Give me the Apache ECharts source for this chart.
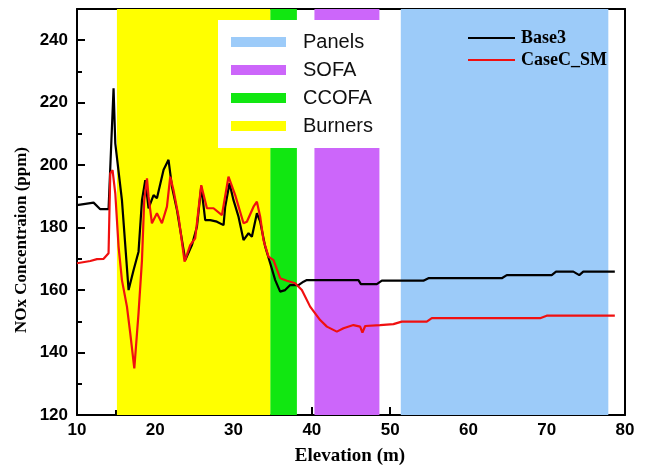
<!DOCTYPE html>
<html>
<head>
<meta charset="utf-8">
<script src="https://cdn.jsdelivr.net/npm/echarts@6/dist/echarts.min.js"></script>
<style>html,body{margin:0;padding:0;background:#fff;}#chart{width:648px;height:473px;}</style>
</head>
<body>
<div id="chart"></div>
<script>
// ---- data ----
const xTicks = [10, 20, 30, 40, 50, 60, 70, 80];
const yTicks = [120, 140, 160, 180, 200, 220, 240];

const bandNames = ['Panels', 'SOFA', 'CCOFA', 'Burners'];
const bandStart = [51.36, 40.33, 34.68, 15.1];
const bandEnd = [77.87, 48.63, 38.09, 34.68];

const base3Elev = [10, 12.12, 12.97, 14.03, 14.25, 14.67, 14.89, 15.74, 16.59, 17.23, 17.86, 18.30, 18.72, 19.14, 19.78, 20.21, 21.06, 21.69, 22.13, 22.77, 23.83, 24.68, 25.32, 25.87, 26.38, 27.02, 27.87, 28.72, 28.93, 29.48, 29.99, 30.63, 31.27, 31.49, 31.91, 32.34, 32.98, 33.40, 34.04, 34.68, 35.32, 35.95, 36.59, 37.23, 38.29, 38.93, 39.36, 45.95, 46.26, 48.30, 48.94, 54.25, 54.89, 64.26, 64.90, 70.64, 71.19, 73.40, 74.16, 74.67, 78.70];
const base3NOx = [187.2, 188.0, 185.9, 185.9, 186.5, 224.6, 207.0, 188.8, 160.0, 166.4, 172.3, 188.8, 195.2, 186.2, 190.4, 189.4, 198.5, 201.7, 193.1, 185.6, 169.6, 174.4, 180.3, 193.1, 182.4, 182.4, 181.9, 180.8, 186.7, 194.2, 188.8, 183.5, 176.0, 176.0, 178.2, 177.1, 184.6, 181.9, 173.9, 168.6, 163.2, 159.5, 160.0, 161.6, 161.6, 162.7, 163.2, 163.2, 161.9, 161.9, 163.0, 163.0, 163.8, 163.8, 164.8, 164.8, 165.9, 165.9, 164.8, 165.9, 165.9];

const caseElev = [10, 11.70, 12.55, 13.40, 14.03, 14.25, 14.54, 14.89, 15.31, 15.74, 16.38, 16.80, 17.32, 17.86, 18.30, 18.59, 18.94, 19.14, 19.57, 20.21, 20.85, 21.49, 21.91, 22.33, 22.97, 23.74, 24.46, 25.10, 25.87, 26.60, 27.44, 28.51, 29.35, 30.21, 31.27, 31.70, 32.55, 32.98, 33.40, 33.82, 34.46, 35.10, 35.95, 36.81, 37.87, 38.72, 39.78, 41.06, 41.92, 43.19, 44.04, 45.31, 46.17, 46.46, 46.81, 48.72, 50.42, 51.49, 54.68, 55.32, 69.15, 70.0, 78.70];
const caseNOx = [168.6, 169.3, 169.9, 170.0, 171.8, 197.4, 198.4, 191.0, 173.9, 163.2, 154.7, 146.2, 134.9, 152.6, 169.6, 188.8, 195.8, 189.9, 181.4, 184.6, 181.4, 186.7, 196.3, 192.0, 183.5, 169.1, 174.4, 176.6, 193.6, 186.2, 186.2, 184.0, 196.3, 190.4, 181.4, 181.9, 186.7, 188.3, 183.5, 176.0, 170.7, 169.6, 163.8, 163.0, 162.2, 160.0, 154.7, 150.4, 148.3, 146.7, 147.8, 148.8, 148.3, 146.4, 148.5, 148.8, 149.1, 149.9, 149.9, 151.0, 151.0, 151.8, 151.8];

// ---- styles ----
const bandColors = ['#9ccbf9', '#cc66fa', '#11e711', '#ffff00'];
const sans = "'Liberation Sans', Arial, sans-serif";
const serif = "'Liberation Serif', 'Times New Roman', serif";

const chart = echarts.init(document.getElementById('chart'), null, {renderer: 'canvas'});

const bandSeries = bandNames.map((n, i) => ({
  name: n,
  type: 'line',
  data: [],
  z: 1,
  silent: true,
  itemStyle: {color: bandColors[i]},
  lineStyle: {color: bandColors[i]},
  markArea: {
    silent: true,
    itemStyle: {color: bandColors[i], opacity: 1},
    data: [[{xAxis: bandStart[i]}, {xAxis: bandEnd[i]}]]
  }
}));

const zip = (a, b) => a.map((v, i) => [v, b[i]]);

const option = {
  animation: false,
  grid: {left: 77, right: 23, top: 9, bottom: 58, containLabel: false},
  legend: [
    {
      data: bandNames.map(n => ({name: n, icon: 'rect'})),
      orient: 'vertical',
      left: 218, top: 20,
      padding: [12, 16, 12, 13],
      backgroundColor: '#ffffff',
      itemWidth: 55, itemHeight: 10, itemGap: 8,
      selectedMode: false,
      textStyle: {fontFamily: sans, fontSize: 20, lineHeight: 20, color: '#111', padding: [0, 0, 0, 12]}
    },
    {
      data: [{name: 'Base3', icon: 'rect'}, {name: 'CaseC_SM', icon: 'rect'}],
      orient: 'vertical',
      left: 468, top: 29,
      padding: 0,
      itemWidth: 47, itemHeight: 2, itemGap: 4,
      selectedMode: false,
      textStyle: {fontFamily: serif, fontSize: 18, lineHeight: 18, fontWeight: 'bold', color: '#000', padding: [0, 0, 0, 1]}
    }
  ],
  xAxis: [
    {
      type: 'value', min: 10, max: 80, interval: 10,
      axisLine: {show: true, onZero: false, lineStyle: {color: '#000', width: 2}},
      axisTick: {show: true, inside: true, length: 8, lineStyle: {color: '#000', width: 2}},
      minorTick: {show: true, splitNumber: 2, length: 5, lineStyle: {color: '#000', width: 2}},
      splitLine: {show: false},
      axisLabel: {margin: 7, fontFamily: sans, fontSize: 17, fontWeight: 'bold', color: '#000',
        formatter: v => (xTicks.indexOf(v) >= 0 ? String(v) : '')}
    },
    {
      type: 'value', min: 10, max: 80, position: 'top',
      axisLine: {show: true, onZero: false, lineStyle: {color: '#000', width: 2}},
      axisTick: {show: false}, axisLabel: {show: false}, splitLine: {show: false}
    }
  ],
  yAxis: [
    {
      type: 'value', min: 120, max: 250, interval: 10,
      axisLine: {show: true, onZero: false, lineStyle: {color: '#000', width: 2}},
      axisTick: {show: true, inside: true, length: 5, lineStyle: {color: '#000', width: 2}},
      splitLine: {show: false},
      axisLabel: {margin: 9, fontFamily: sans, fontSize: 17, fontWeight: 'bold', color: '#000',
        formatter: v => (yTicks.indexOf(v) >= 0 ? String(v) : '')}
    },
    {
      type: 'value', min: 120, max: 250, position: 'right',
      axisLine: {show: true, onZero: false, lineStyle: {color: '#000', width: 2}},
      axisTick: {show: false}, axisLabel: {show: false}, splitLine: {show: false}
    },
    {
      type: 'value', min: 120, max: 250, interval: 20, position: 'left',
      axisLine: {show: false},
      axisTick: {show: true, inside: true, length: 8, lineStyle: {color: '#000', width: 2}},
      axisLabel: {show: false}, splitLine: {show: false}
    }
  ],
  series: bandSeries.concat([
    {
      name: 'Base3', type: 'line', data: zip(base3Elev, base3NOx),
      showSymbol: false, symbol: 'none', z: 3,
      lineStyle: {color: '#000000', width: 2.2}, itemStyle: {color: '#000000'}
    },
    {
      name: 'CaseC_SM', type: 'line', data: zip(caseElev, caseNOx),
      showSymbol: false, symbol: 'none', z: 3,
      lineStyle: {color: '#f01010', width: 2.2}, itemStyle: {color: '#f01010'}
    }
  ]),
  graphic: [
    {
      type: 'text', x: 22, y: 240, rotation: Math.PI / 2,
      style: {text: 'NOx Concentraion (ppm)', fontFamily: serif, fontSize: 17, fontWeight: 'bold',
        fill: '#000', align: 'center', verticalAlign: 'middle'}
    },
    {
      type: 'text', x: 350, y: 456,
      style: {text: 'Elevation (m)', fontFamily: serif, fontSize: 19, fontWeight: 'bold',
        fill: '#000', align: 'center', verticalAlign: 'middle'}
    }
  ]
};
chart.setOption(option);
</script>
</body>
</html>
